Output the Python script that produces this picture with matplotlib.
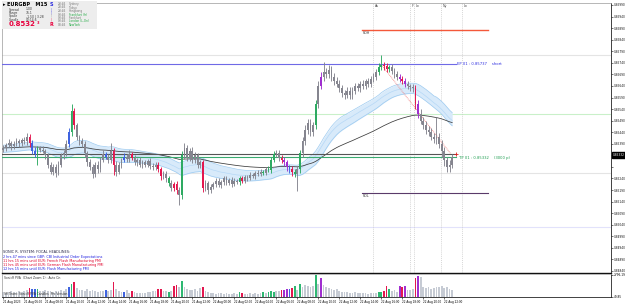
import numpy as np
import pandas as pd
import matplotlib
matplotlib.use("Agg")
import matplotlib.pyplot as plt
from matplotlib.patches import Rectangle

# ---------------- data (prices in points, 1 point = 0.00001) ----------------
closes = [
    85372, 85385, 85395, 85380, 85390, 85400, 85392, 85405, 85400, 85420,
    85395, 85360, 85345, 85370, 85365, 85360, 85340, 85300, 85270, 85290,
    85265, 85300, 85340, 85350, 85390, 85440, 85530, 85470, 85420, 85400,
    85390, 85350, 85310, 85290, 85260, 85300, 85280, 85320, 85345, 85335,
    85320, 85360, 85300, 85270, 85300, 85320, 85335, 85325, 85345, 85330,
    85310, 85320, 85300, 85310, 85300, 85315, 85295, 85290, 85300, 85280,
    85250, 85260, 85240, 85220, 85200, 85215, 85190, 85170, 85340, 85370,
    85330, 85360, 85320, 85340, 85300, 85310, 85200, 85220, 85190, 85205,
    85215, 85230, 85210, 85225, 85240, 85220, 85235, 85215, 85230, 85225,
    85240, 85230, 85245, 85240, 85255, 85250, 85265, 85260, 85270, 85265,
    85280, 85275, 85320, 85345, 85350, 85330, 85320, 85310, 85290, 85280,
    85270, 85260, 85280, 85350, 85400, 85450, 85480, 85440, 85470, 85560,
    85640, 85680, 85700, 85690, 85710, 85680, 85660, 85650, 85630, 85610,
    85600, 85620, 85600, 85620, 85640, 85630, 85650, 85640, 85660, 85650,
    85670, 85680, 85700, 85720, 85730, 85725, 85715, 85720, 85705, 85690,
    85680, 85670, 85660, 85650, 85640, 85635, 85630, 85560, 85520, 85490,
    85470, 85450, 85440, 85420, 85410, 85420, 85390, 85360, 85320, 85290,
    85300, 85335]
first_open = 85365
upper_wick = [
    12, 10, 15, 8, 12, 14, 10, 12, 16, 15,
    12, 10, 14, 12, 10, 15, 8, 12, 10, 14,
    12, 15, 10, 14, 18, 20, 30, 15, 12, 10,
    14, 12, 10, 15, 12, 10, 14, 12, 16, 10,
    12, 34, 10, 14, 12, 10, 15, 12, 18, 10,
    12, 10, 14, 8, 12, 10, 14, 12, 10, 12,
    10, 14, 12, 10, 12, 10, 14, 12, 20, 25,
    15, 12, 16, 14, 12, 10, 12, 14, 10, 12,
    8, 10, 12, 8, 10, 12, 8, 10, 12, 8,
    10, 12, 8, 10, 12, 10, 8, 12, 10, 8,
    10, 12, 15, 15, 15, 12, 10, 14, 12, 10,
    12, 10, 12, 15, 18, 20, 15, 18, 16, 18,
    20, 22, 45, 18, 20, 16, 15, 18, 14, 15,
    12, 16, 14, 15, 12, 14, 10, 15, 12, 14,
    12, 15, 14, 18, 45, 15, 14, 12, 15, 12,
    14, 10, 12, 15, 12, 10, 14, 15, 18, 20,
    15, 20, 16, 18, 15, 85, 15, 18, 14, 15,
    18, 12]
lower_wick = [
    12, 14, 10, 15, 12, 10, 14, 12, 10, 15,
    18, 15, 14, 45, 12, 10, 14, 15, 12, 14,
    20, 12, 10, 14, 12, 15, 18, 16, 14, 15,
    12, 18, 15, 14, 20, 12, 15, 14, 10, 12,
    15, 14, 45, 18, 12, 14, 10, 12, 15, 10,
    12, 14, 10, 15, 12, 10, 14, 12, 15, 12,
    18, 14, 15, 12, 16, 14, 15, 44, 18, 15,
    16, 14, 15, 12, 16, 14, 18, 15, 16, 12,
    10, 12, 8, 10, 12, 8, 10, 12, 8, 10,
    12, 8, 10, 12, 8, 10, 12, 8, 10, 12,
    10, 8, 12, 10, 14, 15, 12, 14, 16, 15,
    18, 15, 75, 18, 16, 15, 18, 16, 15, 18,
    16, 15, 18, 16, 15, 18, 16, 15, 14, 16,
    15, 14, 16, 15, 14, 12, 15, 14, 12, 15,
    14, 12, 15, 14, 12, 16, 14, 15, 12, 14,
    15, 14, 12, 15, 14, 16, 15, 18, 20, 16,
    18, 16, 18, 15, 18, 20, 18, 25, 25, 22,
    20, 15]
volumes = [
    620, 560, 650, 720, 600, 680, 760, 630, 700, 850,
    1100, 1050, 950, 1000, 750, 700, 850, 800, 720, 650,
    760, 700, 850, 800, 1000, 1200, 1700, 1850, 1100, 900,
    850, 800, 950, 750, 900, 700, 650, 750, 800, 900,
    700, 850, 1850, 1000, 750, 650, 600, 850, 550, 800,
    600, 520, 560, 500, 550, 620, 650, 720, 800, 950,
    1000, 800, 750, 650, 700, 1450, 1500, 1300, 2080, 1200,
    1000, 850, 900, 950, 800, 1100, 1250, 800, 600, 520,
    480, 420, 520, 450, 400, 480, 420, 380, 460, 400,
    600, 550, 420, 380, 450, 400, 480, 420, 550, 600,
    500, 600, 750, 650, 800, 700, 850, 900, 1050, 1000,
    1100, 1400, 900, 1650, 1300, 1550, 1400, 1250, 1450, 2796,
    1600, 2450, 1500, 1300, 1100, 1000, 900, 950, 800, 600,
    650, 600, 550, 500, 600, 480, 520, 450, 500, 420,
    450, 550, 500, 650, 650, 750, 1450, 1000, 800, 850,
    650, 1450, 1200, 1450, 900, 850, 1000, 2400, 2600, 2500,
    1300, 1150, 1200, 1000, 1100, 1300, 1250, 1400, 1150, 1200,
    1000, 900]
pva = list(
    "nnnnnnnnnn" "rbbgnnnnnn" "nnnnnbgrnn" "nnnnnnnnnb" "nnrnnnbnnr"
    "nnnnnnnnnr" "rnngnrrngn" "nnnnnnrnnn" "nnnnnnnnnn" "grnnnnnnng"
    "ngggnnrmmb" "rgngnnnnng" "nmnnnnnnnn" "nnnnnnnnnn" "nnnggrrgnn"
    "nmrmnnnrmn" "nnnnnnnnnn" "nn")

price_ticks = [0.84840 + 0.0005 * k for k in range(24)]
date_labels = ["21 Aug 2023", "21 Aug 06:00", "21 Aug 08:00", "21 Aug 10:00",
               "21 Aug 12:00", "21 Aug 14:00", "21 Aug 16:00", "21 Aug 18:00",
               "21 Aug 20:00", "21 Aug 22:00", "22 Aug 00:00", "22 Aug 02:00",
               "22 Aug 04:00", "22 Aug 06:00", "22 Aug 08:00", "22 Aug 10:00",
               "22 Aug 12:00", "22 Aug 14:00", "22 Aug 16:00", "22 Aug 18:00",
               "22 Aug 20:00", "22 Aug 22:00"]
ep_level, tp_level = 0.85737, 0.85332
grey_level = 0.85346
roh_level, rol_level = 0.85882, 0.85177
pivot_levels = [0.85774, 0.85519, 0.85264, 0.85030]
session_names = ["As", "F", "Lo", "Ny", "Lo"]
session_bars = [140.8, 154.9, 156.4, 166.7, 174.7]
current_price = "0.85332"
vol_labels = [49.85, 2796.19]
headlines = ["2 hrs 47 mins since GBP: CBI Industrial Order Expectations",
             "11 hrs 15 mins until EUR: French Flash Manufacturing PMI",
             "11 hrs 45 mins until EUR: German Flash Manufacturing PMI",
             "12 hrs 15 mins until EUR: Flash Manufacturing PMI"]
headline_colors = ["#1f1fe0", "#e0002a", "#e0002a", "#1f1fe0"]
sess_times = ["23:45", "23:45", "23:45", "03:45", "03:45", "03:45", "08:45"]
sess_names = ["Sydney", "Tokyo", "Hongkong", "Frankfurt (fr)", "Frankfurt",
              "London (L-On)", "NewYork"]
sess_colors = ["#777777", "#777777", "#777777", "#22aa44", "#777777", "#22aa44", "#22aa44"]

# ---------------- derived ----------------
c = np.array(closes) / 1e5
o = np.array([first_open] + closes[:-1]) / 1e5
h = np.maximum(o, c) + np.array(upper_wick) / 1e5
l = np.minimum(o, c) - np.array(lower_wick) / 1e5
v = np.array(volumes, dtype=float)
n = len(c)
idx = np.arange(n)

cmap = {"n": "#85858f", "g": "#2eaa62", "r": "#e3174f", "b": "#3f63e0", "m": "#a02fd0"}
vmap = {"n": "#c6cbd4", "g": "#2eb872", "r": "#e3174f", "b": "#3f63e0", "m": "#a02fd0"}
ccol = [cmap[k] for k in pva]
vcol = [vmap[k] for k in pva]

df = pd.DataFrame({"h": h, "l": l, "c": c})
ema_h = df["h"].ewm(span=34, adjust=False).mean().values
ema_l = df["l"].ewm(span=34, adjust=False).mean().values
ema_c = df["c"].ewm(span=34, adjust=False).mean().values
ema89 = df["c"].ewm(span=89, adjust=False).mean().values

# ---------------- figure ----------------
W, H = 625, 305
fig = plt.figure(figsize=(6.25, 3.05), dpi=100)
fig.patch.set_facecolor("white")
plt.rcParams["font.family"] = ["DejaVu Sans"]


def fx(px):
    return px / W


def fy(py):
    return 1 - py / H


ax = fig.add_axes([fx(2), fy(273), fx(611) - fx(2), fy(3) - fy(273)])
axv = fig.add_axes([fx(2), fy(297), fx(611) - fx(2), fy(274) - fy(297)])

bar_px = 2.625
xmax = -0.5 + 609 / bar_px
ymin = 0.85990 - (273 - 5) * 0.0115 / 266
ymax = 0.85990 + 2 * 0.0115 / 266
ax.set_xlim(-0.5, xmax)
ax.set_ylim(ymin, ymax)
axv.set_xlim(-0.5, xmax)
axv.set_ylim(0, 2900)

# faint pivot lines
for lv, col in zip(pivot_levels, ["#e4e4e4", "#c9f0c9", "#e4e4e4", "#e2e2fb"]):
    ax.axhline(lv, color=col, lw=0.8, zorder=1)

# session vertical lines
for sb, nm in zip(session_bars, session_names):
    ax.axvline(sb, color="#c8c8c8", lw=0.5, ls=(0, (1.5, 1.5)), zorder=1)
    ax.text(sb + 0.8, ymax - 0.00004, nm, fontsize=2.3, color="#444444",
            va="top", ha="left")

# dragon ribbon + trend
ax.fill_between(idx, ema_l, ema_h, color="#d8eafa", zorder=2, lw=0)
ax.plot(idx, ema_h, color="#9ccaf0", lw=0.5, zorder=3)
ax.plot(idx, ema_l, color="#9ccaf0", lw=0.5, zorder=3)
ax.plot(idx, ema_c, color="#b6d8f6", lw=0.5, zorder=3)
ax.plot(idx, ema89, color="#3a3a3a", lw=0.55, zorder=3)

# horizontal trade lines
line_end = n + 0.3
ax.plot([-0.5, line_end], [ep_level, ep_level], color="#6f6ae6", lw=0.8, zorder=4)
ax.plot([-0.5, line_end], [grey_level, grey_level], color="#555555", lw=0.8, zorder=4)
ax.plot([-0.5, line_end], [tp_level, tp_level], color="#3aaa70", lw=0.8, zorder=4)
ax.text(n + 0.8, ep_level, "EP 01 : %.5f    short" % ep_level, fontsize=2.7,
        color="#2a2ae0", va="center", ha="left")
ax.text(n + 1.5, tp_level - 0.00003, "TP 01 : %.5f    (3000 p)" % tp_level,
        fontsize=2.7, color="#1e9e50", va="center", ha="left")
ax.plot([n + 0.4], [grey_level], marker="+", color="#e02020", ms=2.5, mew=0.6, zorder=6)

# ROH / ROL
x0, x1 = 136.6, 184.6
ax.plot([x0, x1], [roh_level, roh_level], color="#f4583a", lw=1.0, zorder=4)
ax.text(x0 + 0.3, roh_level - 0.00004, "ROH", fontsize=2.3, color="#333333",
        va="top", ha="left")
ax.plot([x0, x1], [rol_level, rol_level], color="#5a3a6a", lw=0.8, zorder=4)
ax.text(x0 + 0.3, rol_level - 0.00004, "ROL", fontsize=2.3, color="#333333",
        va="top", ha="left")

# dotted trend line from the top to the last bar
ax.plot([144, 170.5], [c[144] + 0.00003, grey_level], color="#f07a7a", lw=0.6,
        ls=(0, (1, 1)), zorder=5)

# candles
ax.vlines(idx, l, h, colors=ccol, lw=0.65, zorder=5)
body = np.maximum(np.abs(c - o), 0.000012)
ax.bar(idx, body, bottom=np.minimum(o, c), width=0.7, color=ccol, lw=0, zorder=6)

# axes styling (price)
ax.set_xticks([])
ax.yaxis.tick_right()
ax.set_yticks(price_ticks)
plabels = ["%.5f" % t for t in price_ticks]
plabels[9] = ""  # hidden behind the current-price box
ax.set_yticklabels(plabels, fontsize=2.1)
ax.tick_params(axis="y", length=1.5, width=0.4, pad=0.6, colors="#111111")
for s in ["left", "top"]:
    ax.spines[s].set_color("#9a9a9a")
    ax.spines[s].set_linewidth(0.5)
ax.spines["right"].set_color("#222222")
ax.spines["right"].set_linewidth(0.6)
ax.spines["bottom"].set_color("#111111")
ax.spines["bottom"].set_linewidth(1.0)

# current price box
fig.text(fx(613), fy(155), current_price, fontsize=2.1, color="white",
         va="center", ha="left",
         bbox=dict(boxstyle="square,pad=0.2", fc="black", ec="black"))

# volume panel
axv.bar(idx, v, width=0.7, color=vcol, lw=0)
axv.yaxis.tick_right()
axv.set_yticks(vol_labels)
axv.set_yticklabels(["%.2f" % t for t in vol_labels], fontsize=2.1)
axv.tick_params(axis="y", length=1.2, width=0.4, pad=0.6)
axv.set_xticks(list(range(0, 8 * len(date_labels), 8)))
axv.set_xticklabels(date_labels, fontsize=2.0, ha="left")
axv.tick_params(axis="x", length=1.5, width=0.4, pad=0.6)
for s in ["left", "top"]:
    axv.spines[s].set_color("#9a9a9a")
    axv.spines[s].set_linewidth(0.5)
axv.spines["right"].set_color("#222222")
axv.spines["right"].set_linewidth(0.6)
axv.spines["bottom"].set_color("#222222")
axv.spines["bottom"].set_linewidth(0.6)
axv.text(0.004, 0.82, "SonicR PVA  (Chart Zoom 1) : Auto On", transform=axv.transAxes,
         fontsize=2.2, color="#333333", va="center")
axv.text(0.004, 0.12, "SR Team: SonicR PVA Candles  Pro Version", transform=axv.transAxes,
         fontsize=2.2, color="#333333", va="center")

# headlines block
fig.text(fx(3), fy(252), "SONIC R. SYSTEM: FOCAL HEADLINES:", fontsize=2.5,
         color="#222244", va="center")
for k, (t, col) in enumerate(zip(headlines, headline_colors)):
    fig.text(fx(3), fy(257 + 4 * k), t, fontsize=2.4, color=col, va="center")

# info panel (top left)
fig.patches.append(Rectangle((fx(2), fy(29)), fx(97) - fx(2), fy(1) - fy(29),
                             transform=fig.transFigure, fc="#ededed", ec="none",
                             zorder=0))
fig.text(fx(2.5), fy(4.5), "\u25B8", fontsize=3.5, color="black", va="center")
fig.text(fx(7), fy(4.5), "EURGBP   M15", fontsize=3.6, weight="bold",
         color="black", va="center")
rows = [("Spread", "1.00"), ("Range", "76.1"), ("Space", "-1.50 | 3.28"),
        ("Candle", "02:14:6")]
for k, (a, b) in enumerate(rows):
    fig.text(fx(9), fy(9.5 + 3.4 * k), a, fontsize=2.2, color="#333333", va="center")
    fig.text(fx(26), fy(9.5 + 3.4 * k), b, fontsize=2.2, color="#333333", va="center")
fig.text(fx(9), fy(24.5), "0.8532", fontsize=5.0, weight="bold", color="#e8003d",
         va="center")
fig.text(fx(36.5), fy(23), "3", fontsize=2.6, weight="bold", color="#e8003d", va="center")
fig.text(fx(49.5), fy(4.5), "S", fontsize=3.5, weight="bold", color="#2a2ae0", va="center")
for yy, col in zip([9.5, 12.5, 15.5, 19], ["#2a2ae0", "#2a2ae0", "#888888", "#e8003d"]):
    fig.text(fx(50.5), fy(yy), "\u2502", fontsize=2.2, color=col, va="center")
fig.text(fx(49.5), fy(24.5), "R", fontsize=3.5, weight="bold", color="#e8003d", va="center")
for k in range(7):
    fig.text(fx(58), fy(4 + 3.5 * k), sess_times[k], fontsize=2.1, color="#666666",
             va="center")
    fig.text(fx(69), fy(4 + 3.5 * k), sess_names[k], fontsize=2.1, color=sess_colors[k],
             va="center")

fig.savefig("out.png", dpi=100, facecolor="white")
